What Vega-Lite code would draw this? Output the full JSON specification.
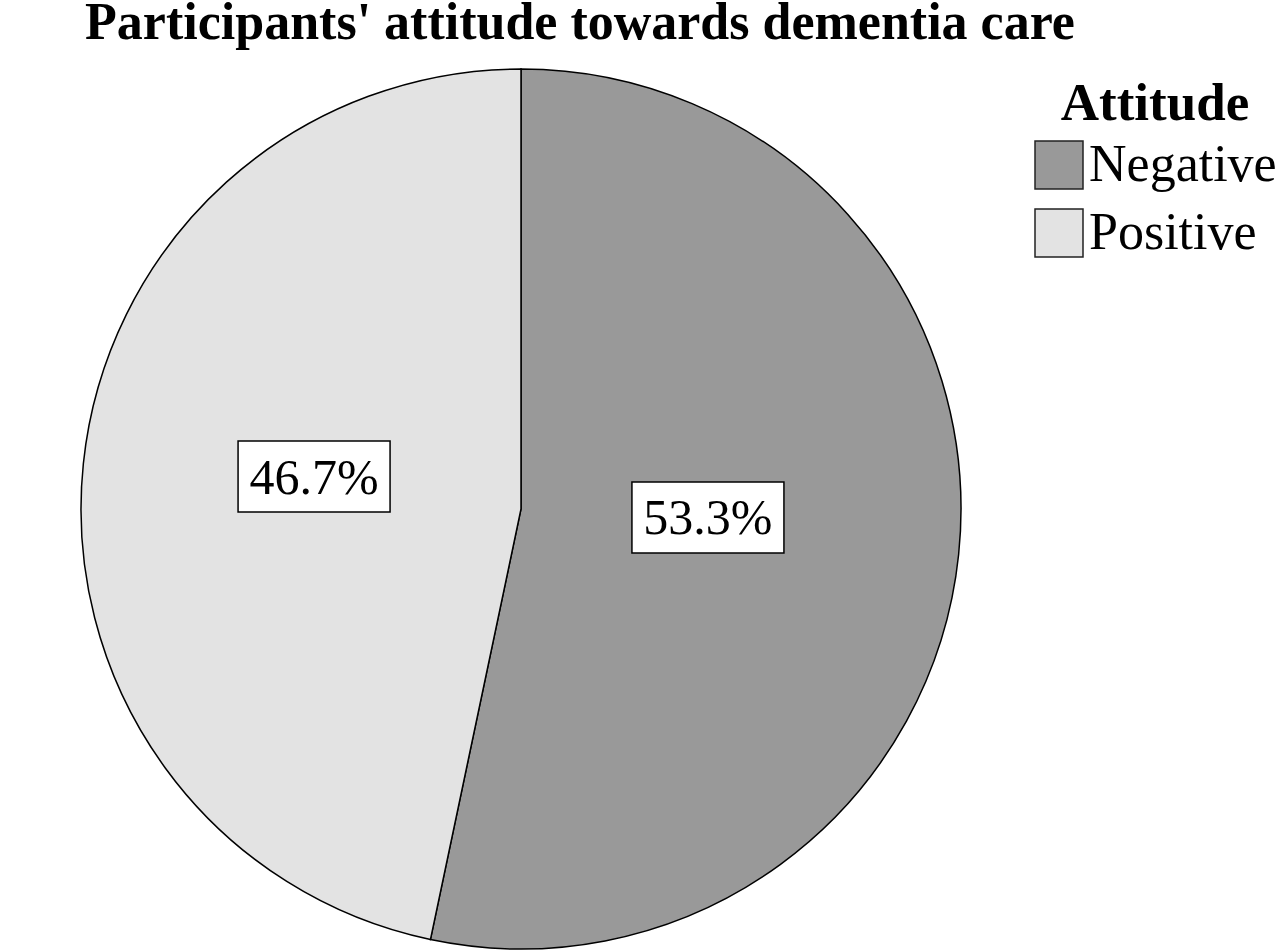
{
  "$schema": "https://vega.github.io/schema/vega-lite/v6.json",
  "width": 880,
  "height": 880,
  "autosize": {"type": "none"},
  "padding": {"left": 81, "top": 69, "right": 319, "bottom": 1},
  "background": "white",
  "title": {
    "text": "Participants' attitude towards dementia care",
    "font": "Liberation Serif",
    "fontSize": 52,
    "fontWeight": "bold",
    "color": "black",
    "anchor": "middle",
    "baseline": "alphabetic",
    "offset": 0,
    "dy": 25,
    "dx": 59
  },
  "data": {
    "values": [
      {"Attitude": "Negative", "Percent": 53.3},
      {"Attitude": "Positive", "Percent": 46.7}
    ]
  },
  "config": {"view": {"stroke": null}},
  "layer": [
    {
      "mark": {"type": "arc", "stroke": "black", "strokeWidth": 1.5},
      "encoding": {
        "theta": {"field": "Percent", "type": "quantitative", "stack": true},
        "color": {
          "field": "Attitude",
          "type": "nominal",
          "scale": {"domain": ["Negative", "Positive"], "range": ["#999999", "#e3e3e3"]},
          "legend": {
            "orient": "none",
            "legendX": 952,
            "legendY": 9,
            "title": "Attitude",
            "titleFont": "Liberation Serif",
            "titleFontSize": 53,
            "titleFontWeight": "bold",
            "titleColor": "black",
            "titleAnchor": "middle",
            "titleAlign": "center",
            "titleLimit": 500,
            "titlePadding": 8,
            "labelFont": "Liberation Serif",
            "labelFontSize": 52,
            "labelColor": "black",
            "labelLimit": 400,
            "labelOffset": 4,
            "symbolType": "square",
            "symbolSize": 2304,
            "symbolStrokeColor": "#222222",
            "symbolStrokeWidth": 1.5,
            "rowPadding": 14
          }
        }
      }
    },
    {
      "transform": [
        {"window": [{"op": "sum", "field": "Percent", "as": "cum"}], "sort": [{"field": "Attitude"}]},
        {"calculate": "(datum.cum - datum.Percent / 2) / 100 * 2 * PI", "as": "mid"},
        {"calculate": "0.45 * sin(datum.mid)", "as": "lx"},
        {"calculate": "0.45 * cos(datum.mid)", "as": "ly"},
        {"calculate": "format(datum.Percent, '.1f') + '%'", "as": "label"}
      ],
      "layer": [
        {
          "mark": {"type": "rect", "width": 152, "height": 71, "fill": "white", "stroke": "black", "strokeWidth": 1.5, "xOffset": -10, "yOffset": -12},
          "encoding": {
            "x": {"field": "lx", "type": "quantitative", "scale": {"domain": [-1, 1]}, "axis": null},
            "y": {"field": "ly", "type": "quantitative", "scale": {"domain": [-1, 1]}, "axis": null}
          }
        },
        {
          "mark": {"type": "text", "font": "Liberation Serif", "fontSize": 50, "color": "black", "align": "center", "baseline": "middle", "dy": 2, "xOffset": -10, "yOffset": -12},
          "encoding": {
            "x": {"field": "lx", "type": "quantitative", "scale": {"domain": [-1, 1]}, "axis": null},
            "y": {"field": "ly", "type": "quantitative", "scale": {"domain": [-1, 1]}, "axis": null},
            "text": {"field": "label", "type": "nominal"}
          }
        }
      ]
    }
  ]
}
